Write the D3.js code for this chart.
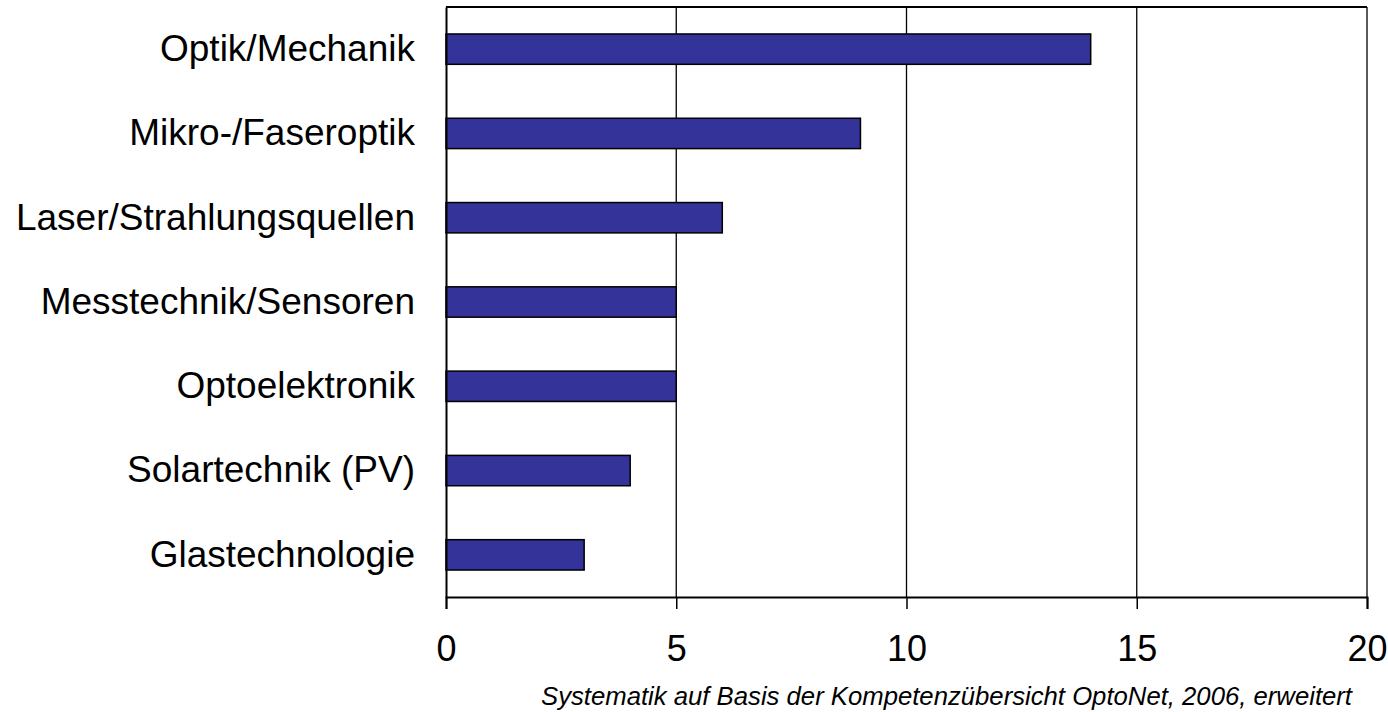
<!DOCTYPE html>
<html>
<head>
<meta charset="utf-8">
<script src="https://cdnjs.cloudflare.com/ajax/libs/d3/7.8.5/d3.min.js"></script>
<style>
  body { margin: 0; background: #fff; }
  text { font-family: "Liberation Sans", Arial, sans-serif; fill: #000; }
</style>
</head>
<body>
<svg id="chart"></svg>
<script>
const CATEGORIES = [
    "Optik/Mechanik",
    "Mikro-/Faseroptik",
    "Laser/Strahlungsquellen",
    "Messtechnik/Sensoren",
    "Optoelektronik",
    "Solartechnik (PV)",
    "Glastechnologie"
];
const VALUES = [14, 9, 6, 5, 5, 4, 3];
const X_TICKS = [0, 5, 10, 15, 20];
const SOURCE = "Systematik auf Basis der Kompetenzübersicht OptoNet, 2006, erweitert";

const WIDTH = 1388;
const HEIGHT = 712;
const margin = { top: 7, right: 21, bottom: 115, left: 446 };
const innerW = WIDTH - margin.left - margin.right;
const innerH = HEIGHT - margin.top - margin.bottom;

const svg = d3.select("#chart")
    .attr("width", WIDTH)
    .attr("height", HEIGHT);

const g = svg.append("g")
    .attr("transform", "translate(" + margin.left + "," + margin.top + ")");

const x = d3.scaleLinear().domain([0, 20]).range([0, innerW]);
const y = d3.scaleBand().domain(CATEGORIES).range([0, innerH]).paddingInner(0.64).paddingOuter(0.32);

// vertical gridlines
g.selectAll(".grid")
    .data(X_TICKS.slice(1))
    .enter().append("line")
    .attr("class", "grid")
    .attr("x1", d => x(d)).attr("x2", d => x(d))
    .attr("y1", 0).attr("y2", innerH)
    .attr("stroke", "#000").attr("stroke-width", 1.3);

// top border
g.append("line")
    .attr("x1", 0).attr("x2", innerW)
    .attr("y1", 0).attr("y2", 0)
    .attr("stroke", "#000").attr("stroke-width", 2);

// bars
g.selectAll(".bar")
    .data(VALUES)
    .enter().append("rect")
    .attr("class", "bar")
    .attr("x", 0)
    .attr("y", (d, i) => y(CATEGORIES[i]))
    .attr("width", d => x(d))
    .attr("height", y.bandwidth())
    .attr("fill", "#333399")
    .attr("stroke", "#000")
    .attr("stroke-width", 1.5);

// x axis
const xAxis = g.append("g")
    .attr("transform", "translate(0," + innerH + ")")
    .call(d3.axisBottom(x).tickValues(X_TICKS).tickSize(12).tickPadding(26));
xAxis.select(".domain").attr("stroke", "#000").attr("stroke-width", 2);
xAxis.selectAll(".tick line").attr("stroke", "#000").attr("stroke-width", 1.5);
xAxis.selectAll(".tick text")
    .style("font-family", "'Liberation Sans', Arial, sans-serif")
    .style("font-size", "36px")
    .attr("fill", "#000");

// y axis
const yAxis = g.append("g")
    .call(d3.axisLeft(y).tickSize(0).tickPadding(31));
yAxis.select(".domain").attr("stroke", "#000").attr("stroke-width", 2);
yAxis.selectAll(".tick text")
    .style("font-family", "'Liberation Sans', Arial, sans-serif")
    .style("font-size", "37px")
    .attr("fill", "#000");

// source note
svg.append("text")
    .attr("x", 1352)
    .attr("y", 705)
    .attr("text-anchor", "end")
    .style("font-size", "25.7px")
    .style("font-style", "italic")
    .text(SOURCE);
</script>
</body>
</html>
